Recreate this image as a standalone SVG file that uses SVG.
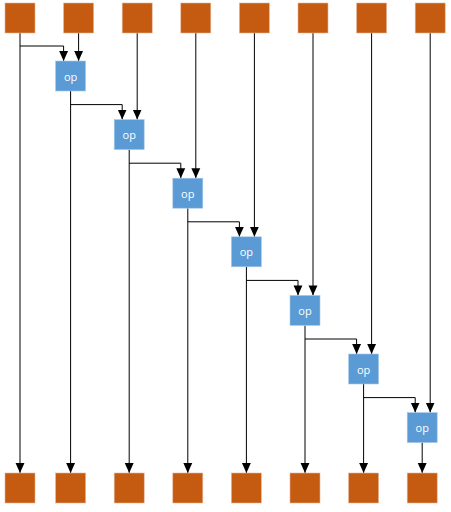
<svg xmlns="http://www.w3.org/2000/svg" width="451" height="512" viewBox="0 0 451 512">
<style>
.sq{fill:#c55a11;stroke:#e8b59a;stroke-width:0.6}
.op{fill:#5b9bd5;stroke:#a9c9e8;stroke-width:0.6}
.t{fill:#ffffff;font-family:"Open Sans","Liberation Sans",sans-serif;font-size:11px;text-anchor:middle;dominant-baseline:central}
.c{fill:none;stroke:#000000;stroke-width:1;marker-end:url(#ah)}
</style>
<defs>
<marker id="ah" markerUnits="userSpaceOnUse" markerWidth="10" markerHeight="10" viewBox="0 0 9 8" refX="9" refY="4" orient="auto">
<path d="M0,0 L9,4 L0,8 Z" fill="#000000"/>
</marker>
</defs>
<rect width="451" height="512" fill="#ffffff"/>
<g id="connectors">
<path class="c" d="M20,33 V473"/>
<path class="c" d="M20,46 H63.6 V61"/>
<path class="c" d="M78.6,33 V61"/>
<path class="c" d="M137.2,33 V119.6"/>
<path class="c" d="M195.8,33 V178.2"/>
<path class="c" d="M254.4,33 V236.8"/>
<path class="c" d="M313,33 V295.4"/>
<path class="c" d="M371.6,33 V354"/>
<path class="c" d="M430.2,33 V412.6"/>
<path class="c" d="M70.6,91 V473"/>
<path class="c" d="M70.6,104.6 H122.2 V119.6"/>
<path class="c" d="M129.2,149.6 V473"/>
<path class="c" d="M129.2,163.2 H180.8 V178.2"/>
<path class="c" d="M187.8,208.2 V473"/>
<path class="c" d="M187.8,221.8 H239.4 V236.8"/>
<path class="c" d="M246.4,266.8 V473"/>
<path class="c" d="M246.4,280.4 H298 V295.4"/>
<path class="c" d="M305,325.4 V473"/>
<path class="c" d="M305,339 H356.6 V354"/>
<path class="c" d="M363.6,384 V473"/>
<path class="c" d="M363.6,397.6 H415.2 V412.6"/>
<path class="c" d="M422.2,442.6 V473"/>
</g>
<g id="top0"><rect class="sq" x="5" y="3" width="30" height="30"/></g>
<g id="top1"><rect class="sq" x="63.6" y="3" width="30" height="30"/></g>
<g id="top2"><rect class="sq" x="122.2" y="3" width="30" height="30"/></g>
<g id="top3"><rect class="sq" x="180.8" y="3" width="30" height="30"/></g>
<g id="top4"><rect class="sq" x="239.4" y="3" width="30" height="30"/></g>
<g id="top5"><rect class="sq" x="298" y="3" width="30" height="30"/></g>
<g id="top6"><rect class="sq" x="356.6" y="3" width="30" height="30"/></g>
<g id="top7"><rect class="sq" x="415.2" y="3" width="30" height="30"/></g>
<g id="op1"><rect class="op" x="55.6" y="61" width="30" height="30"/><text class="t" x="70.6" y="76">op</text></g>
<g id="op2"><rect class="op" x="114.2" y="119.6" width="30" height="30"/><text class="t" x="129.2" y="134.6">op</text></g>
<g id="op3"><rect class="op" x="172.8" y="178.2" width="30" height="30"/><text class="t" x="187.8" y="193.2">op</text></g>
<g id="op4"><rect class="op" x="231.4" y="236.8" width="30" height="30"/><text class="t" x="246.4" y="251.8">op</text></g>
<g id="op5"><rect class="op" x="290" y="295.4" width="30" height="30"/><text class="t" x="305" y="310.4">op</text></g>
<g id="op6"><rect class="op" x="348.6" y="354" width="30" height="30"/><text class="t" x="363.6" y="369">op</text></g>
<g id="op7"><rect class="op" x="407.2" y="412.6" width="30" height="30"/><text class="t" x="422.2" y="427.6">op</text></g>
<g id="bot0"><rect class="sq" x="5" y="473" width="30" height="30"/></g>
<g id="bot1"><rect class="sq" x="55.6" y="473" width="30" height="30"/></g>
<g id="bot2"><rect class="sq" x="114.2" y="473" width="30" height="30"/></g>
<g id="bot3"><rect class="sq" x="172.8" y="473" width="30" height="30"/></g>
<g id="bot4"><rect class="sq" x="231.4" y="473" width="30" height="30"/></g>
<g id="bot5"><rect class="sq" x="290" y="473" width="30" height="30"/></g>
<g id="bot6"><rect class="sq" x="348.6" y="473" width="30" height="30"/></g>
<g id="bot7"><rect class="sq" x="407.2" y="473" width="30" height="30"/></g>
</svg>
